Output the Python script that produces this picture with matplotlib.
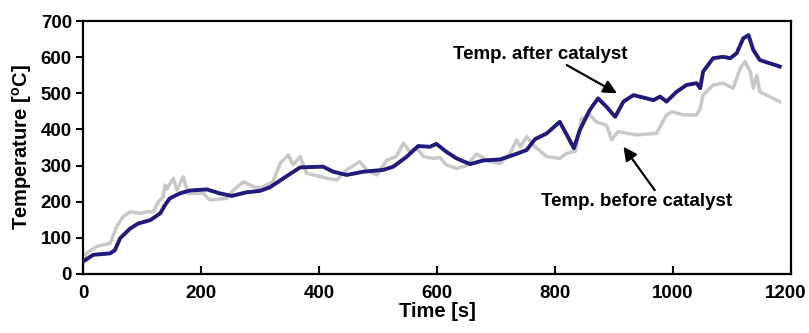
import matplotlib.pyplot as plt
import matplotlib.transforms as mtransforms

plt.rcParams['font.family'] = ['Liberation Sans', 'DejaVu Sans']
plt.rcParams['font.weight'] = 'bold'
plt.rcParams['mathtext.fontset'] = 'custom'
plt.rcParams['mathtext.rm'] = 'Liberation Sans:bold'
plt.rcParams['mathtext.bf'] = 'Liberation Sans:bold'

# temperature after catalyst (blue)
t_after = [0, 17, 46, 54, 63, 80, 94, 114, 131, 139, 147, 164, 181, 210, 232, 252, 277,
           300, 317, 340, 368, 407, 424, 447, 475, 509, 526, 549, 568, 588, 599, 616, 633,
           656, 678, 707, 729, 752, 766, 786, 808, 820, 832, 842, 859, 873, 887, 902, 916,
           933, 967, 978, 989, 1006, 1023, 1040, 1046, 1051, 1068, 1085, 1097, 1108, 1119,
           1128, 1136, 1147, 1164, 1181]
T_after = [34, 53, 57, 66, 99, 126, 140, 149, 168, 191, 209, 223, 231, 234, 223, 216, 226,
           230, 240, 265, 295, 297, 283, 274, 283, 288, 297, 325, 354, 352, 360, 338, 320,
           304, 314, 317, 329, 343, 373, 389, 421, 385, 348, 398, 454, 486, 463, 435, 477,
           495, 481, 491, 477, 504, 523, 528, 514, 560, 597, 601, 597, 611, 652,
           661, 620, 592, 583, 574]

# temperature before catalyst (grey)
t_before = [0, 6, 23, 46, 57, 68, 80, 97, 108, 119, 128, 136, 139, 142, 153, 159, 170, 178,
            204, 215, 243, 255, 272, 289, 300, 322, 334, 348, 356, 368, 379, 413, 430, 447,
            469, 481, 498, 515, 531, 543, 554, 565, 577, 594, 605, 616, 633, 650, 667, 690,
            707, 724, 735, 741, 752, 766, 786, 808, 820, 835, 845, 859, 870, 887, 896, 907,
            938, 972, 989, 998, 1018, 1040, 1046, 1051, 1068, 1085, 1102, 1114, 1122, 1131,
            1136, 1142, 1147, 1176, 1181]
T_before = [35, 57, 76, 85, 131, 159, 172, 168, 172, 172, 200, 214, 246, 235, 265, 232, 269, 223,
            223, 205, 209, 232, 255, 242, 237, 255, 306, 329, 302, 325, 279, 265, 260, 288,
            311, 288, 274, 315, 325, 362, 338, 350, 325, 320, 322, 302, 292, 300, 332, 311,
            306, 334, 371, 352, 380, 352, 325, 320, 334, 340, 430, 440, 421, 412, 371, 394,
            385, 389, 440, 449, 440, 440, 458, 495, 523, 528, 514, 569, 588, 560,
            514, 550, 504, 481, 477]

fig = plt.figure(figsize=(8.09, 3.33), dpi=100)
ax = fig.add_axes([83 / 809, 1 - 274 / 333, 708 / 809, 253 / 333])

ax.plot(t_before, T_before, color='#c8c8c8', lw=2.5, zorder=2)
ax.plot(t_after, T_after, color='#1f1a7c', lw=2.8, zorder=3)

ax.set_xlim(0, 1200)
ax.set_ylim(0, 700)
ax.set_xticks(range(0, 1201, 200))
ax.set_yticks(range(0, 701, 100))
ax.tick_params(axis='x', direction='in', length=6, width=1.5, labelsize=13.5, pad=8)
ax.tick_params(axis='y', direction='out', length=5, width=1.5, labelsize=13.5, pad=3)
for s in ax.spines.values():
    s.set_linewidth(1.6)

# keep the last x label inside the figure
last = ax.get_xticklabels()[-1]
last.set_transform(last.get_transform() + mtransforms.ScaledTranslation(-5 / 100, 0, fig.dpi_scale_trans))

ax.set_xlabel('Time [s]', fontsize=14.5, fontweight='bold', labelpad=0)
ax.set_ylabel(r'Temperature [$^\mathrm{o}$C]', fontsize=14.5, fontweight='bold', labelpad=5)

# labels and arrows
ax.text(775, 606, 'Temp. after catalyst', fontsize=13.5, fontweight='bold',
        ha='center', va='center')
ax.annotate('', xy=(905, 500), xytext=(820, 578),
            arrowprops=dict(arrowstyle='-|>', color='black', lw=1.6,
                            mutation_scale=20, shrinkA=0, shrinkB=0))
ax.text(938, 200, 'Temp. before catalyst', fontsize=13.5, fontweight='bold',
        ha='center', va='center')
ax.annotate('', xy=(916, 352), xytext=(969, 232),
            arrowprops=dict(arrowstyle='-|>', color='black', lw=1.6,
                            mutation_scale=20, shrinkA=0, shrinkB=0))

fig.savefig('out.png', dpi=100)
